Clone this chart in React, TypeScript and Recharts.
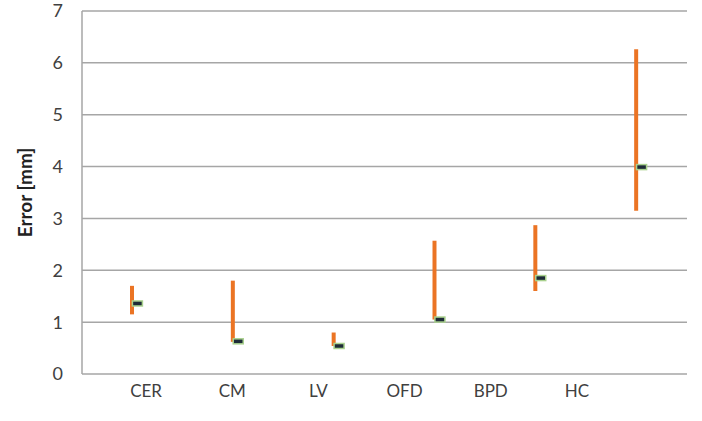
import { Bar, CartesianGrid, ComposedChart, Scatter, XAxis, YAxis } from "recharts";

const measures = ["CER", "CM", "LV", "OFD", "BPD", "HC"];
const lowErr = [1.15, 0.62, 0.54, 1.05, 1.6, 3.15];
const highErr = [1.7, 1.8, 0.8, 2.57, 2.87, 6.26];
const medianErr = [1.36, 0.63, 0.54, 1.05, 1.85, 3.99];
const yTicks = [0, 1, 2, 3, 4, 5, 6, 7];

const data = measures.map((name, i) => ({
  name,
  range: [lowErr[i], highErr[i]],
  median: medianErr[i],
}));

const textColor = "#404040";
const gridColor = "#a6a6a6";

function MedianMark(props: any) {
  const { cx, cy } = props;
  return (
    <rect
      x={cx}
      y={cy - 2.5}
      width={10}
      height={5}
      fill="#1e2b38"
      stroke="#a9d18e"
      strokeWidth={1.5}
    />
  );
}

export default function App() {
  return (
    <div style={{ position: "absolute", left: 0, top: 0, background: "#fff" }}>
      <ComposedChart
        width={702}
        height={421}
        data={data}
        margin={{ top: 11, right: 15, bottom: 14, left: 0 }}
      >
        <CartesianGrid xAxisId="data" vertical={false} stroke={gridColor} strokeWidth={1.5} />
        <XAxis xAxisId="data" dataKey="name" hide height={0} />
        {/* Excel draws the category labels offset from the bars */}
        <XAxis
          xAxisId="labels"
          dataKey="name"
          padding={{ left: 21, right: 67 }}
          axisLine={false}
          tickLine={false}
          tickMargin={5}
          tick={{ fill: textColor, fontSize: 17, fontFamily: "Lato" }}
          height={33}
        />
        <YAxis
          domain={[0, 7]}
          ticks={yTicks}
          width={82}
          axisLine={{ stroke: gridColor, strokeWidth: 1.5 }}
          tickLine={false}
          tickMargin={13}
          tick={{ fill: textColor, fontSize: 18, fontFamily: "Lato" }}
          label={{
            value: "Error [mm]",
            angle: -90,
            position: "center",
            dx: -16,
            style: { fill: "#222", fontSize: 19, fontWeight: 700, fontFamily: "Lato" },
          }}
        />
        <Bar
          xAxisId="data"
          dataKey="range"
          fill="#eb7424"
          barSize={4}
          isAnimationActive={false}
        />
        <Scatter
          xAxisId="data"
          dataKey="median"
          shape={<MedianMark />}
          isAnimationActive={false}
        />
      </ComposedChart>
    </div>
  );
}
